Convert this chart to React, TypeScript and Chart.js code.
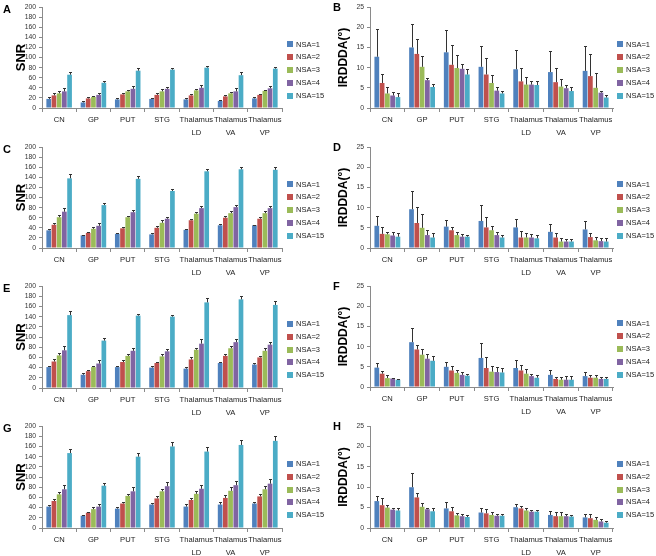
import React, { useEffect, useRef } from "react";
import { Chart, registerables } from "chart.js";
Chart.register(...registerables);

const categories: (string | string[])[] = ["CN", "GP", "PUT", "STG", ["Thalamus", "LD"], ["Thalamus", "VA"], ["Thalamus", "VP"]];
const seriesNames = ["NSA=1", "NSA=2", "NSA=3", "NSA=4", "NSA=15"];
const seriesColors = ["#4F81BD", "#C0504D", "#9BBB59", "#8064A2", "#4BACC6"];

// values[series][category]
const snrA = [
  [18, 11, 17, 18, 17, 14, 19],
  [25, 19, 27, 26, 25, 23, 26],
  [29, 22, 33, 33, 35, 29, 34],
  [33, 26, 38, 38, 40, 33, 39],
  [66, 50, 74, 76, 80, 65, 78],
];
const snrAErr = [
  [3, 2, 2, 2, 2, 2, 2],
  [4, 2, 2, 3, 2, 3, 2],
  [4, 2, 2, 4, 3, 3, 2],
  [7, 4, 6, 4, 6, 7, 5],
  [6, 3, 6, 3, 4, 7, 3],
];
const irdB = [
  [12.7, 15.0, 13.8, 10.2, 9.6, 8.9, 9.2],
  [6.2, 13.4, 10.7, 8.3, 6.6, 6.4, 7.9],
  [3.6, 10.2, 9.9, 6.2, 5.8, 5.3, 5.0],
  [3.1, 6.9, 9.7, 4.3, 5.8, 4.9, 3.8],
  [2.7, 5.2, 8.3, 3.6, 5.7, 4.2, 2.6],
];
const irdBErr = [
  [6.8, 5.7, 5.5, 5.2, 4.7, 5.2, 6.2],
  [2.3, 3.6, 4.9, 4.1, 3.4, 3.4, 5.6],
  [1.5, 2.7, 3.3, 2.0, 2.0, 2.0, 3.6],
  [0.8, 0.6, 1.3, 0.8, 0.8, 0.9, 0.5],
  [0.9, 0.7, 1.4, 0.5, 0.9, 1.1, 0.6],
];
const snrC = [
  [35, 25, 28, 27, 36, 45, 45],
  [46, 30, 39, 40, 55, 60, 58],
  [61, 38, 61, 50, 68, 69, 69],
  [72, 44, 71, 58, 79, 81, 79],
  [138, 85, 137, 113, 152, 156, 155],
];
const snrCErr = [
  [3, 1, 2, 2, 2, 2, 1],
  [4, 2, 3, 3, 3, 3, 3],
  [5, 3, 3, 5, 4, 4, 4],
  [8, 5, 5, 4, 5, 5, 5],
  [9, 5, 5, 3, 4, 5, 5],
];
const irdD = [
  [5.5, 9.6, 5.3, 6.7, 5.1, 4.0, 4.6],
  [3.5, 6.2, 4.4, 5.1, 2.6, 2.6, 2.7],
  [3.4, 5.0, 3.2, 4.4, 2.6, 1.6, 1.9],
  [3.1, 3.2, 2.8, 3.2, 2.6, 1.6, 1.7],
  [2.8, 2.6, 2.8, 2.6, 2.4, 1.6, 1.6],
];
const irdDErr = [
  [2.4, 4.4, 1.7, 3.9, 2.1, 2.0, 2.0],
  [1.8, 3.9, 0.9, 2.6, 1.5, 1.2, 1.1],
  [0.6, 3.5, 0.8, 1.0, 1.2, 0.9, 0.9],
  [0.8, 1.2, 0.6, 0.8, 0.8, 0.7, 0.7],
  [0.9, 1.1, 0.5, 0.7, 0.9, 0.7, 0.8],
];
const snrE = [
  [41, 26, 41, 40, 38, 49, 46],
  [52, 33, 51, 49, 56, 63, 60],
  [64, 41, 63, 62, 75, 78, 73],
  [74, 48, 73, 72, 87, 90, 85],
  [143, 93, 142, 140, 168, 174, 163],
];
const snrEErr = [
  [2, 3, 2, 4, 3, 3, 3],
  [4, 3, 3, 3, 4, 4, 3],
  [4, 3, 4, 4, 4, 5, 5],
  [9, 6, 5, 5, 9, 6, 6],
  [8, 6, 4, 4, 8, 6, 7],
];
const irdF = [
  [4.8, 11.1, 5.0, 7.2, 4.7, 3.0, 2.7],
  [3.3, 9.3, 4.1, 4.7, 4.1, 2.0, 2.3],
  [2.2, 8.0, 3.5, 3.8, 3.3, 1.8, 2.3],
  [2.1, 7.0, 3.0, 3.7, 2.7, 1.8, 2.0],
  [1.8, 6.5, 2.8, 3.6, 2.3, 1.8, 2.0],
];
const irdFErr = [
  [1.1, 3.5, 1.1, 3.8, 1.9, 1.1, 1.0],
  [0.7, 1.2, 1.0, 2.7, 1.3, 0.6, 0.7],
  [0.8, 1.5, 0.7, 1.3, 1.1, 0.8, 0.7],
  [0.2, 1.1, 0.6, 1.2, 0.4, 1.0, 0.6],
  [0.2, 1.3, 0.5, 1.2, 0.6, 0.9, 0.6],
];
const snrG = [
  [42, 24, 38, 46, 42, 46, 48],
  [53, 30, 48, 58, 55, 59, 62],
  [66, 37, 63, 72, 67, 73, 76],
  [76, 42, 72, 82, 77, 84, 87],
  [147, 83, 140, 160, 150, 163, 171],
];
const snrGErr = [
  [4, 2, 3, 4, 5, 5, 4],
  [4, 2, 4, 4, 4, 6, 5],
  [4, 4, 3, 4, 5, 7, 6],
  [8, 5, 8, 8, 8, 9, 10],
  [9, 5, 7, 8, 8, 9, 10],
];
const irdH = [
  [6.6, 10.0, 4.8, 3.8, 5.1, 3.2, 2.6],
  [5.6, 7.5, 4.1, 3.6, 4.8, 2.9, 2.4],
  [5.0, 5.2, 3.1, 3.2, 4.3, 2.9, 2.0],
  [4.5, 4.6, 2.9, 3.0, 4.0, 2.9, 1.6],
  [4.3, 4.1, 2.7, 3.0, 4.0, 2.8, 1.3],
];
const irdHErr = [
  [1.2, 3.6, 1.5, 1.2, 0.8, 0.9, 0.8],
  [1.8, 1.1, 1.1, 1.0, 0.7, 1.1, 1.0],
  [0.7, 0.9, 0.7, 0.7, 0.5, 1.1, 0.7],
  [0.5, 0.4, 0.5, 0.5, 0.4, 0.5, 0.6],
  [0.6, 0.7, 0.6, 0.5, 0.4, 0.4, 0.4],
];

const snrTicksMax = 200;
const snrStep = 20;
const irdTicksMax = 25;
const irdStep = 5;

type Panel = {
  letter: string;
  title: string;
  values: number[][];
  errors: number[][];
  max: number;
  step: number;
  left: number;
  top: number;
  width: number;
  right: boolean;
  xHeight: number;
};

const panels: Panel[] = [
  { letter: "A", title: "SNR", values: snrA, errors: snrAErr, max: snrTicksMax, step: snrStep, left: 0, top: 0, width: 328, right: false, xHeight: 31 },
  { letter: "B", title: "IRDDDA(°)", values: irdB, errors: irdBErr, max: irdTicksMax, step: irdStep, left: 330, top: 0, width: 326, right: true, xHeight: 31 },
  { letter: "C", title: "SNR", values: snrC, errors: snrCErr, max: snrTicksMax, step: snrStep, left: 0, top: 140, width: 328, right: false, xHeight: 31 },
  { letter: "D", title: "IRDDDA(°)", values: irdD, errors: irdDErr, max: irdTicksMax, step: irdStep, left: 330, top: 140, width: 326, right: true, xHeight: 31 },
  { letter: "E", title: "SNR", values: snrE, errors: snrEErr, max: snrTicksMax, step: snrStep, left: 0, top: 279, width: 328, right: false, xHeight: 30 },
  { letter: "F", title: "IRDDDA(°)", values: irdF, errors: irdFErr, max: irdTicksMax, step: irdStep, left: 330, top: 279, width: 326, right: true, xHeight: 31 },
  { letter: "G", title: "SNR", values: snrG, errors: snrGErr, max: snrTicksMax, step: snrStep, left: 0, top: 419, width: 328, right: false, xHeight: 30 },
  { letter: "H", title: "IRDDDA(°)", values: irdH, errors: irdHErr, max: irdTicksMax, step: irdStep, left: 330, top: 419, width: 326, right: true, xHeight: 30 },
];

const FONT = "'Liberation Sans', Arial, sans-serif";
const H = 139;

const extrasPlugin = {
  id: "extras",
  afterDatasetsDraw(chart: any) {
    const ctx = chart.ctx;
    const yScale = chart.scales.y;
    ctx.save();
    ctx.strokeStyle = "#333";
    ctx.lineWidth = 1;
    chart.data.datasets.forEach((ds: any, i: number) => {
      const meta = chart.getDatasetMeta(i);
      meta.data.forEach((el: any, j: number) => {
        const v = ds.data[j];
        const e = ds.errors[j];
        const x = Math.round(el.x) + 0.5;
        const y0 = yScale.getPixelForValue(v);
        const y1 = Math.round(yScale.getPixelForValue(v + e)) + 0.5;
        ctx.beginPath();
        ctx.moveTo(x, y0);
        ctx.lineTo(x, y1);
        ctx.moveTo(x - 1.5, y1);
        ctx.lineTo(x + 1.5, y1);
        ctx.stroke();
      });
    });
    ctx.restore();
  },
  afterDraw(chart: any) {
    const ctx = chart.ctx;
    const opts = chart.options.plugins.extras;
    const area = chart.chartArea;
    ctx.save();
    // legend
    const cy = (area.top + area.bottom) / 2 + 12.5;
    const lx = area.right + (opts.right ? 4 : 5);
    ctx.font = `7.5px ${FONT}`;
    ctx.textBaseline = "middle";
    ctx.textAlign = "left";
    seriesNames.forEach((name, i) => {
      const y = cy + (i - 2) * 12.8;
      ctx.fillStyle = seriesColors[i];
      ctx.fillRect(lx, Math.round(y - 3), 6, 6);
      ctx.fillStyle = "#222";
      ctx.fillText(name, lx + 9, y);
    });
    // panel letter
    ctx.font = `bold 11px ${FONT}`;
    ctx.fillStyle = "#000";
    ctx.fillText(opts.letter, 3, opts.right ? 8 : 10);
    ctx.restore();
  },
};

function PanelChart({ p }: { p: Panel }) {
  const ref = useRef<HTMLCanvasElement>(null);
  useEffect(() => {
    if (!ref.current) return;
    const yWidth = p.right ? 40 : 42;
    const areaRight = p.right ? 283 : 282;
    const chart = new Chart(ref.current, {
      type: "bar",
      data: {
        labels: categories as any,
        datasets: p.values.map((vals, i) => ({
          label: seriesNames[i],
          data: vals,
          errors: p.errors[i],
          backgroundColor: seriesColors[i],
          borderWidth: 0,
          categoryPercentage: 0.76,
          barPercentage: 0.9,
        })) as any,
      },
      options: {
        responsive: false,
        animation: false,
        events: [],
        layout: { padding: { top: 7, left: 0, right: p.width - areaRight, bottom: 0 } },
        plugins: {
          legend: { display: false },
          tooltip: { enabled: false },
          extras: { letter: p.letter, right: p.right },
        } as any,
        scales: {
          x: {
            type: "category",
            offset: true,
            grid: { offset: true, drawOnChartArea: false, drawTicks: true, tickLength: 4, color: "#8a8a8a" },
            border: { display: true, color: "#8a8a8a" },
            ticks: {
              autoSkip: false,
              maxRotation: 0,
              minRotation: 0,
              padding: 1.5,
              color: "#222",
              font: { family: FONT, size: 7.6, lineHeight: 13 / 7.6 },
            },
            afterFit: (s: any) => {
              s.height = p.xHeight;
            },
          },
          y: {
            min: 0,
            max: p.max,
            grid: { drawOnChartArea: false, drawTicks: true, tickLength: 3, color: "#8a8a8a" },
            border: { display: true, color: "#8a8a8a" },
            ticks: {
              stepSize: p.step,
              autoSkip: false,
              padding: 3,
              color: "#333",
              font: { family: FONT, size: 6.8 },
            },
            title: {
              display: true,
              text: p.title,
              color: "#000",
              font: { family: FONT, size: p.right ? 12 : 13, weight: "bold" },
              padding: { top: p.right ? 6.5 : 14, bottom: 0 },
            },
            afterFit: (s: any) => {
              s.width = yWidth;
            },
          },
        },
      } as any,
      plugins: [extrasPlugin],
    });
    return () => chart.destroy();
  }, [p]);
  return (
    <canvas
      ref={ref}
      width={p.width}
      height={H}
      style={{ position: "absolute", left: p.left, top: p.top, width: p.width, height: H }}
    />
  );
}

export default function App() {
  return (
    <div
      style={{
        position: "fixed",
        left: 0,
        top: 0,
        width: 656,
        height: 556,
        overflow: "hidden",
        background: "#fff",
      }}
    >
      {panels.map((p) => (
        <PanelChart key={p.letter} p={p} />
      ))}
    </div>
  );
}
